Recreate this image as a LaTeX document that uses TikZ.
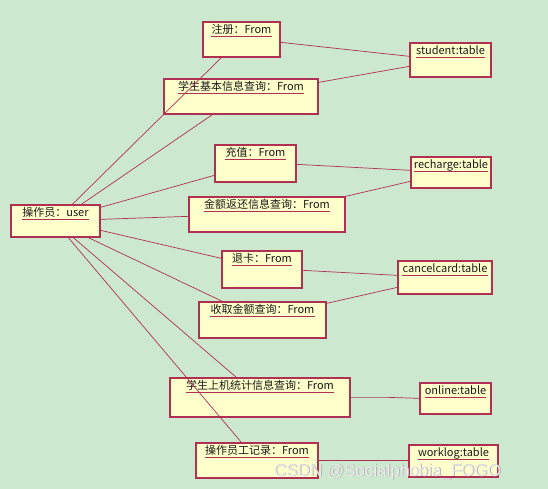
\documentclass[tikz,border=0pt]{standalone}
\usepackage{fontspec}
\setmainfont{Noto Sans CJK SC}
\newfontfamily\wmfont{Liberation Sans}
\definecolor{bgc}{HTML}{CCE8CE}
\definecolor{boxfill}{HTML}{FFFFCC}
\definecolor{boxdraw}{HTML}{B03052}
\begin{document}
\begin{tikzpicture}[x=1pt,y=-1pt,
  objbox/.style={draw=boxdraw,line width=1.3pt,fill=boxfill,inner sep=0pt,rectangle},
  lbl/.style={inner sep=0pt,font=\fontsize{11}{13}\selectfont,text=black!90},
  ul/.style={draw=boxdraw,line width=1pt},
  conn/.style={draw=boxdraw,line width=0.7pt},
  wmstyle/.style={inner sep=0pt,anchor=base west,font=\wmfont\fontsize{17}{20}\selectfont}]
\fill[bgc] (0,0) rectangle (548,489);
\useasboundingbox (0,0) rectangle (548,489);
\newcommand\myobj[6]{%
  \node[objbox,minimum width=#4,minimum height=#5] (#1) at (#2,#3) {};
  \node[lbl,anchor=base] (#1l) at ([yshift=-12.5pt]#1.north) {#6};
  \draw[ul] ([yshift=-2.8pt]#1l.base west) -- ([yshift=-2.8pt]#1l.base east);}
\myobj{zc}{241.5}{39.5}{77}{35}{注册：From}
\myobj{stu}{450.5}{60}{81}{34}{student:table}
\myobj{xsjb}{241}{96.5}{154}{35}{学生基本信息查询：From}
\myobj{cz}{255.5}{163.5}{81}{37}{充值：From}
\myobj{rech}{451}{172.5}{80}{31}{recharge:table}
\myobj{jefh}{267}{214.5}{156}{35}{金额返还信息查询：From}
\myobj{user}{55.5}{221}{89}{32}{操作员：user}
\myobj{tk}{262}{269.5}{80}{37}{退卡：From}
\myobj{cc}{445}{277.5}{94}{33}{cancelcard:table}
\myobj{sq}{262.5}{320}{127}{36}{收取金额查询：From}
\myobj{sjtj}{260}{397.5}{180}{39}{学生上机统计信息查询：From}
\myobj{onl}{455.5}{398.5}{71}{31}{online:table}
\myobj{czjl}{257}{460.5}{122}{35}{操作员工记录：From}
\myobj{wl}{453.5}{461}{89}{32}{worklog:table}
% user connectors
\draw[conn] ([xshift=62pt]user.north west) -- ([xshift=19pt]zc.south west);
\draw[conn] ([xshift=71pt]user.north west) -- ([xshift=49pt]xsjb.south west);
\draw[conn] ([yshift=-3pt]user.north east) -- ([yshift=-31pt]cz.north west);
\draw[conn] ([yshift=-15pt]user.north east) -- ([yshift=-20pt]jefh.north west);
\draw[conn] ([yshift=-26pt]user.north east) -- ([yshift=-8pt]tk.north west);
\draw[conn] ([xshift=78pt]user.south west) -- ([xshift=24pt]sq.north west);
\draw[conn] ([xshift=63pt]user.south west) -- ([xshift=67pt]sjtj.north west);
\draw[conn] ([xshift=58pt]user.south west) -- ([xshift=46pt]czjl.north west);
% table connectors
\draw[conn] ([yshift=-21pt]zc.north east) -- ([yshift=-14pt]stu.north west);
\draw[conn] ([yshift=-4pt]xsjb.north east) -- ([yshift=-24pt]stu.north west);
\draw[conn] ([yshift=-20pt]cz.north east) -- ([yshift=-14pt]rech.north west);
\draw[conn] (jefh.north east) -- ([yshift=-25pt]rech.north west);
\draw[conn] ([yshift=-20pt]tk.north east) -- ([yshift=-15pt]cc.north west);
\draw[conn] ([yshift=-2pt]sq.north east) -- ([yshift=-27pt]cc.north west);
\draw[conn] ([yshift=-20pt]sjtj.north east) -- ([xshift=37pt,yshift=-20pt]sjtj.north east) -- ([yshift=-16pt]onl.north west);
\draw[conn] ([yshift=-18pt]czjl.north east) -- ([yshift=-16pt]wl.north west);
% watermark
\node[wmstyle,text=gray!70] (wms) at (274.7,476.7) {CSDN @Socialphobia\_FOGO};
\node[wmstyle,text=white!85!gray] (wm) at (274,476) {CSDN @Socialphobia\_FOGO};
\end{tikzpicture}
\end{document}
